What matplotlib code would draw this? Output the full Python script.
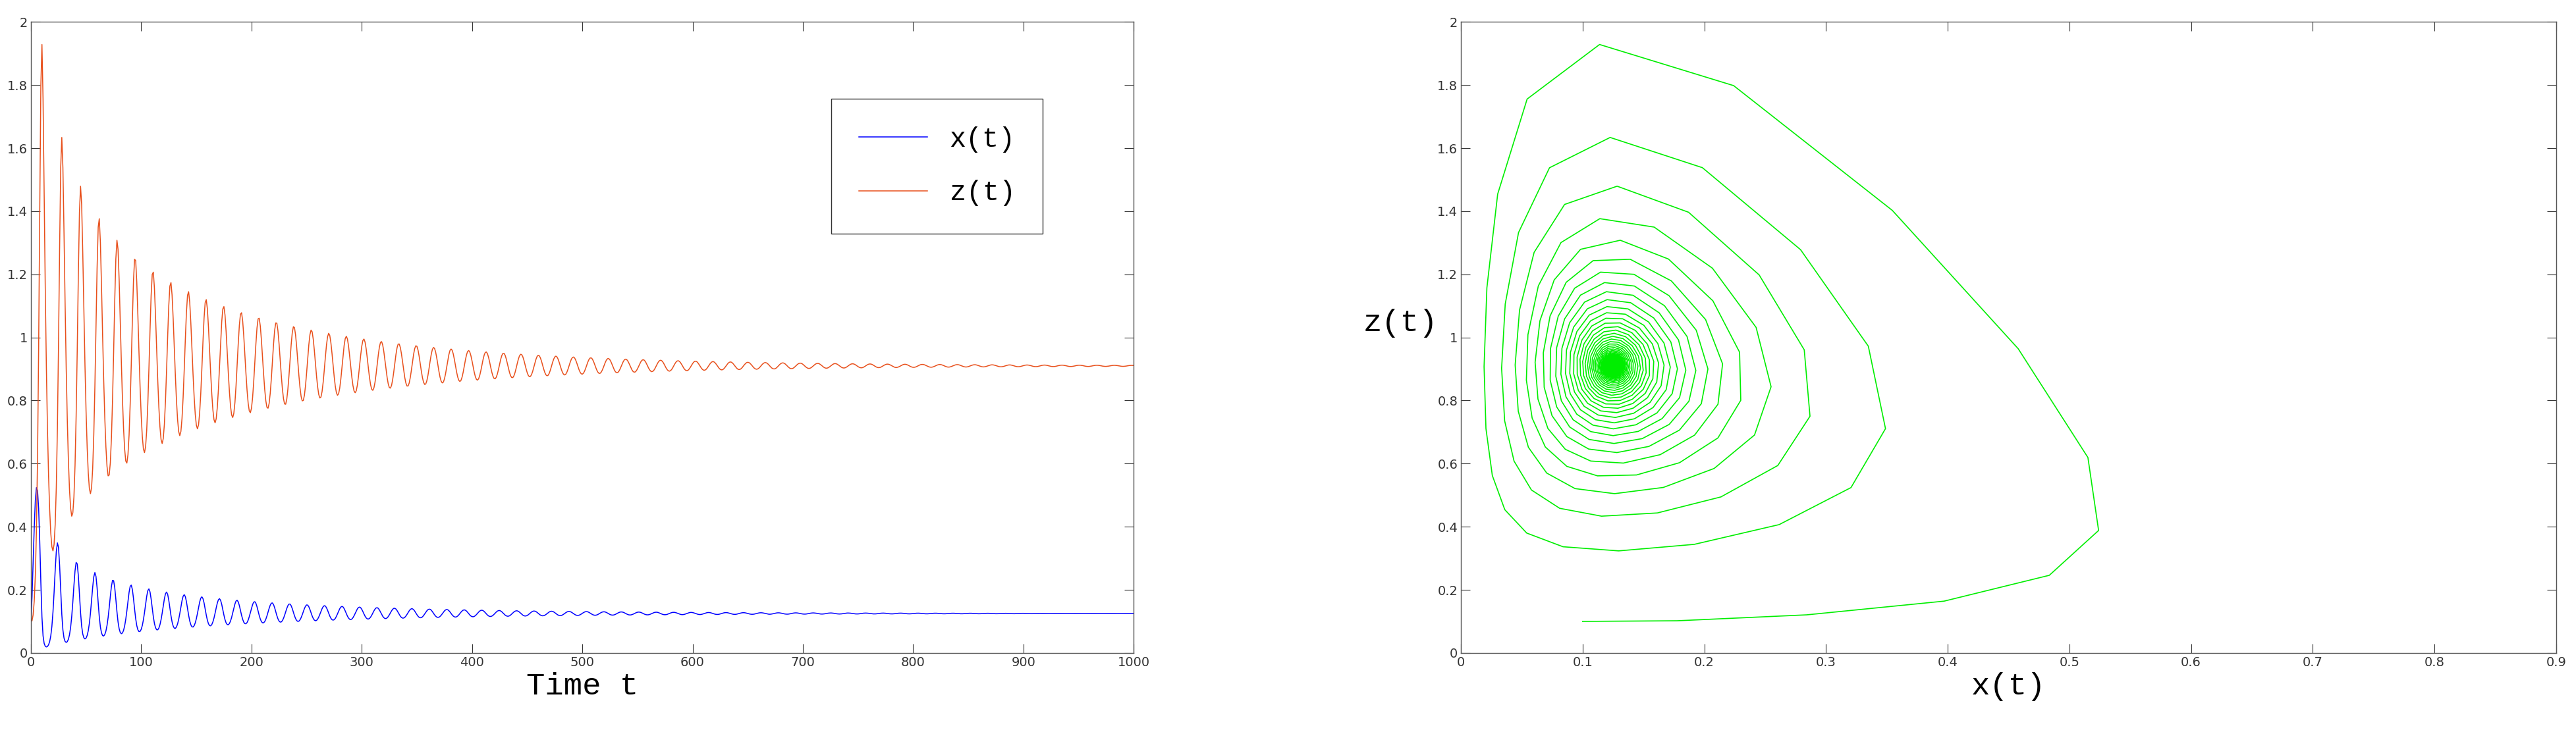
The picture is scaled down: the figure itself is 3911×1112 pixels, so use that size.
import numpy as np
import matplotlib
matplotlib.use("Agg")
import matplotlib.pyplot as plt

# Rosenzweig-MacArthur model (prey x, predator z), parameters fitted to the picture
r, K, h_sat, m = 0.8, 0.7, 2.0, 0.3
x_eq, z_eq = 0.125, 0.91
a = r*(1 - x_eq/K)*(1 + h_sat*x_eq)/z_eq
e = m*(1/x_eq + h_sat)/a
x0, z0 = 0.1, 0.1
t_end, dt_out = 1000, 1.0

def f(s):
    x, z = s
    g = a*x*z/(1 + h_sat*x)
    return np.array([r*x*(1 - x/K) - g, e*g - m*z])

ts = np.arange(0, t_end + dt_out, dt_out)
sol = [np.array([x0, z0])]
nsub = 20
hh = dt_out/nsub
s = sol[0].copy()
for _ in ts[1:]:
    for _ in range(nsub):
        k1 = f(s); k2 = f(s+hh/2*k1); k3 = f(s+hh/2*k2); k4 = f(s+hh*k3)
        s = s + hh/6*(k1+2*k2+2*k3+k4)
    sol.append(s.copy())
sol = np.array(sol)
xs, zs = sol[:, 0], sol[:, 1]

fig = plt.figure(figsize=(39.12, 11.12), dpi=100)
ax1 = fig.add_axes([0.012, 0.108, 0.428, 0.862])
ax2 = fig.add_axes([0.567, 0.108, 0.425, 0.862])
for ax in (ax1, ax2):
    ax.tick_params(direction='in', top=True, right=True, labelsize=14, length=10, colors='#333333')
    for sp in ax.spines.values():
        sp.set_linewidth(1.0)
        sp.set_color('#555555')

ax1.plot(ts, xs, color='blue', lw=1.1, label='x(t)')
ax1.plot(ts, zs, color='#e8501c', lw=1.1, label='z(t)')
ax1.set_xlim(0, 1000); ax1.set_ylim(0, 2)
ax1.set_xticks(np.arange(0, 1001, 100)); ax1.set_yticks(np.arange(0, 2.01, 0.2))
ax1.set_yticklabels(['0'] + [f'{v:g}' for v in np.arange(0.2, 2.01, 0.2)])
ax1.set_xlabel('Time t', family='Liberation Mono', fontsize=34)
ax1.legend(loc='upper right', bbox_to_anchor=(0.93, 0.9), prop={'family': 'Liberation Mono', 'size': 30},
           fancybox=False, edgecolor='black', handlelength=2.5, labelspacing=1.0, borderpad=1.0)

ax2.plot(xs, zs, color='#00ee00', lw=1.2)
ax2.set_xlim(0, 0.9); ax2.set_ylim(0, 2)
ax2.set_xticks(np.arange(0, 0.91, 0.1)); ax2.set_yticks(np.arange(0, 2.01, 0.2))
ax2.set_xticklabels(['0'] + [f'{v:g}' for v in np.arange(0.1, 0.91, 0.1)])
ax2.set_yticklabels(['0'] + [f'{v:g}' for v in np.arange(0.2, 2.01, 0.2)])
ax2.set_xlabel('x(t)', family='Liberation Mono', fontsize=34)
ax2.set_ylabel('z(t)', family='Liberation Mono', fontsize=34, rotation=0, labelpad=40)
fig.savefig('out.png')
